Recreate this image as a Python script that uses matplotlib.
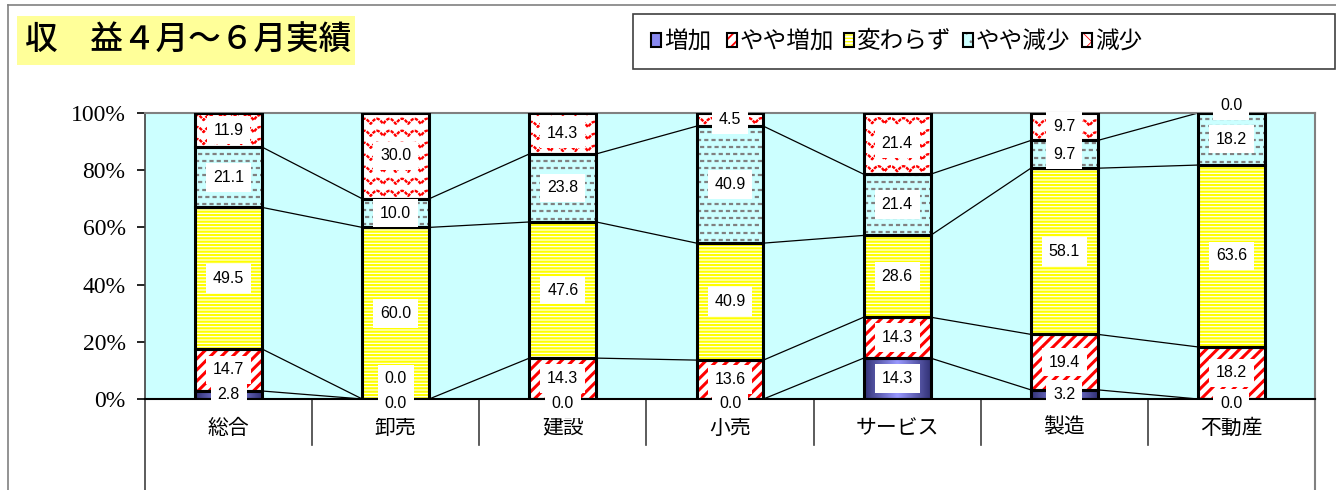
import numpy as np
import matplotlib
matplotlib.use("Agg")
import matplotlib.pyplot as plt
from matplotlib.patches import Rectangle
from matplotlib.lines import Line2D
from matplotlib.colors import LinearSegmentedColormap
import matplotlib.transforms as mtransforms

plt.rcParams['font.family'] = ['Noto Sans CJK JP', 'DejaVu Sans']
plt.rcParams['lines.scale_dashes'] = False

categories = ['総合', '卸売', '建設', '小売', 'サービス', '製造', '不動産']
series_names = ['増加', 'やや増加', '変わらず', 'やや減少', '減少']
zoka = [2.8, 0.0, 0.0, 0.0, 14.3, 3.2, 0.0]
yaya_zoka = [14.7, 0.0, 14.3, 13.6, 14.3, 19.4, 18.2]
kawarazu = [49.5, 60.0, 47.6, 40.9, 28.6, 58.1, 63.6]
yaya_gensho = [21.1, 10.0, 23.8, 40.9, 21.4, 9.7, 18.2]
gensho = [11.9, 30.0, 14.3, 4.5, 21.4, 9.7, 0.0]
yticks = [0, 20, 40, 60, 80, 100]
title = '収　益４月～６月実績'

data = [zoka, yaya_zoka, kawarazu, yaya_gensho, gensho]

# facecolor, hatch colour, hatch, hatch linewidth (legend swatches use hatch)
styles = [
    ('#8888EE', '#8888EE', '', 1.0),
    ('white', '#FF0000', '///', 2.2),
    ('white', '#FFFF00', '-----', 1.6),
    ('#CCFFFF', '#808080', '..', 1.0),
    ('white', '#FF0000', 'xx', 1.0),
]

W, H = 1336, 490
fig = plt.figure(figsize=(W / 100, H / 100), dpi=100)


def px(x, y):
    return x / W, 1 - y / H


# outer chart border
fig.add_artist(Line2D([px(8, 5)[0], px(8, 490)[0]], [px(8, 5)[1], px(8, 490)[1]],
                      color='#808080', lw=1.2))
fig.add_artist(Line2D([px(8, 5)[0], px(1336, 5)[0]], [px(8, 5)[1], px(1336, 5)[1]],
                      color='#808080', lw=1.2))

# title box
x0, y0 = px(17, 65)
x1, y1 = px(355, 16)
fig.add_artist(Rectangle((x0, y0), x1 - x0, y1 - y0, facecolor='#FFFF99',
                         edgecolor='none', transform=fig.transFigure))
fig.text(px(25, 0)[0], (y0 + y1) / 2, title, fontsize=23.5, va='center', ha='left',
         color='black', fontweight='medium')

# legend box
lx0, ly0 = px(633, 69)
lx1, ly1 = px(1335, 14)
fig.add_artist(Rectangle((lx0, ly0), lx1 - lx0, ly1 - ly0, facecolor='white',
                         edgecolor='#404040', lw=1.2, transform=fig.transFigure))
leg_x = [651, 727, 844, 963, 1082]
for i, name in enumerate(series_names):
    fc, hc, hatch, hlw = styles[i]
    plt.rcParams['hatch.linewidth'] = hlw * 0.6
    sx, sy = px(leg_x[i], 47)
    sw = 10 / W
    sh = 14 / H
    fig.add_artist(Rectangle((sx, sy), sw, sh, facecolor=fc, edgecolor=hc,
                             hatch=hatch, lw=0, transform=fig.transFigure))
    fig.add_artist(Rectangle((sx, sy), sw, sh, fill=False, edgecolor='black',
                             lw=1.5, transform=fig.transFigure))
    fig.text(px(leg_x[i] + 13, 0)[0], px(0, 42)[1], name, fontsize=17,
             va='center', ha='left')

# plot area
axl, axb = px(145, 399)
axr, axt = px(1315, 113)
ax = fig.add_axes([axl, axb, axr - axl, axt - axb])
ax.set_facecolor('#CCFFFF')

x = np.arange(len(categories))
bw = 0.4
cum = np.zeros(len(categories))
tops = []
grad_cmap = LinearSegmentedColormap.from_list('g', ['#333377', '#9999FF', '#333377'])
for i, vals in enumerate(data):
    vals = np.array(vals)
    fc, hc, hatch, hlw = styles[i]
    plt.rcParams['hatch.linewidth'] = hlw
    if i in (3, 4):
        bars = ax.bar(x, vals, bw, bottom=cum, color=fc, lw=0, zorder=2)
    else:
        bars = ax.bar(x, vals, bw, bottom=cum, color=fc, edgecolor=hc,
                      hatch=hatch, lw=0, zorder=2)
    if i == 0:
        grad = np.linspace(0, 1, 50).reshape(1, -1)
        for xi, v, b in zip(x, vals, cum):
            if v > 0:
                ax.imshow(grad, extent=(xi - bw / 2, xi + bw / 2, b, b + v),
                          aspect='auto', cmap=grad_cmap, zorder=2.1,
                          interpolation='bicubic')
    if i == 3:
        # grey dash rows
        for xi, v, b, p in zip(x, vals, cum, bars):
            if v <= 0:
                continue
            for r, yy in enumerate(np.arange(b + 1.2, b + v, 2.5)):
                ln, = ax.plot([xi - bw / 2, xi + bw / 2], [yy, yy], color='#808080',
                              lw=1.6, linestyle=(3 * (r % 2), (3, 2.2)), zorder=2.2)
                ln.set_clip_path(p)
    if i == 4:
        # red wave rows
        for xi, v, b, p in zip(x, vals, cum, bars):
            if v <= 0:
                continue
            xs = np.linspace(xi - bw / 2, xi + bw / 2, 200)
            for yy in np.arange(b + 1.0, b + v + 3, 4.2):
                ys = yy + 1.8 * np.abs(np.sin(np.pi * (xs - xi) / 0.075))
                ln, = ax.plot(xs, ys, color='#FF0000', lw=1.7,
                              linestyle=(0, (2.5, 0.8)), zorder=2.2)
                ln.set_clip_path(p)
    ax.bar(x, vals, bw, bottom=cum, fill=False, edgecolor='black', lw=2.2,
           zorder=3)
    cum = cum + vals
    tops.append(cum.copy())

# series lines
for j in range(4):
    for i in range(len(categories) - 1):
        ax.plot([x[i] + bw / 2, x[i + 1] - bw / 2], [tops[j][i], tops[j][i + 1]],
                color='black', lw=0.9, zorder=1)

# data labels
for c in range(len(categories)):
    bottom = 0.0
    last_y = None
    for i, vals in enumerate(data):
        v = vals[c]
        y = bottom + v / 2
        if v == 0:
            if bottom == 0:
                y = -1.5
            elif bottom >= 99.9:
                y = 102.5
        if last_y is not None and abs(y - last_y) < 6:
            y = last_y + 8.5
        ax.text(x[c], y, f'{v:.1f}', ha='center', va='center', fontsize=11.5,
                family=['Liberation Sans', 'DejaVu Sans'], zorder=5, clip_on=False,
                bbox=dict(facecolor='white', edgecolor='none', pad=5))
        last_y = y
        bottom += v

ax.set_xlim(-0.5, len(categories) - 0.5)
ax.set_ylim(0, 100)
ax.set_yticks(yticks)
ax.set_yticklabels([f'{t}%' for t in yticks])
ax.tick_params(axis='y', direction='out', length=6, width=1.2, pad=8,
               labelsize=17, labelfontfamily='Liberation Serif')
ax.set_xticks([])

for s in ['top', 'right']:
    ax.spines[s].set_color('#808080')
    ax.spines[s].set_linewidth(1.5)
ax.spines['left'].set_color('#404040')
ax.spines['left'].set_linewidth(1.2)
ax.spines['bottom'].set_color('black')
ax.spines['bottom'].set_linewidth(1.5)

# category axis below plot
blend = mtransforms.blended_transform_factory(ax.transData, ax.transAxes)
ax.plot([0, 0], [0, -0.32], transform=ax.transAxes, color='#404040', lw=1.2,
        clip_on=False)
ax.plot([1, 1], [0, -0.32], transform=ax.transAxes, color='#808080', lw=1.5,
        clip_on=False)
for k in range(1, len(categories)):
    ax.plot([k - 0.5, k - 0.5], [0, -0.16], transform=blend, color='#404040',
            lw=1.2, clip_on=False)
for xi, name in zip(x, categories):
    ax.text(xi, -0.1, name, transform=blend, ha='center', va='center',
            fontsize=15)

fig.savefig('out.png', dpi=100)
